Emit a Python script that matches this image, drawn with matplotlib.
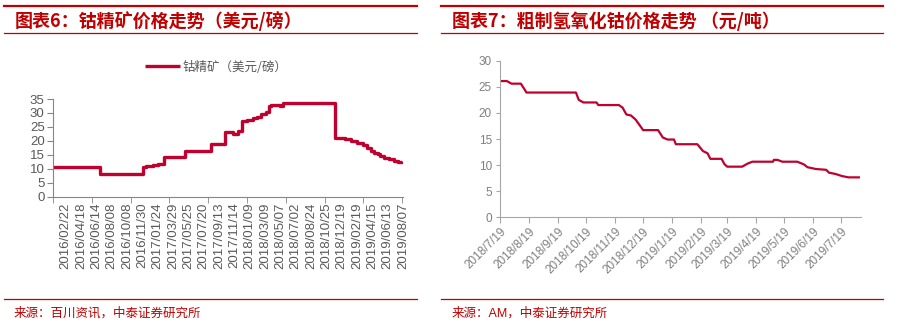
import matplotlib
matplotlib.use("Agg")
import matplotlib.pyplot as plt
import matplotlib.dates as mdates
from matplotlib.lines import Line2D
import numpy as np
import pandas as pd

plt.rcParams['font.family'] = ['Liberation Sans', 'Noto Sans CJK SC', 'DejaVu Sans']

RED = "#C00000"
LINE = "#C0002F"

# ---- 图表6 钴精矿 (x en unités d'étiquette, valeur en escalier) ----
ore_labels = ["2016/02/22", "2016/04/18", "2016/06/14", "2016/08/08", "2016/10/08",
              "2016/11/30", "2017/01/24", "2017/03/29", "2017/05/25", "2017/07/20",
              "2017/09/13", "2017/11/14", "2018/01/09", "2018/03/09", "2018/05/07",
              "2018/07/02", "2018/08/24", "2018/10/25", "2018/12/19", "2019/02/19",
              "2019/04/15", "2019/06/13", "2019/08/07"]
ore_x = [-0.83, 2.21, 5.03, 5.25, 5.7, 6.0, 6.4, 7.75, 9.49, 10.42, 10.9, 11.25,
         11.5, 11.85, 12.2, 12.5, 12.75, 13.05, 13.25, 13.4, 13.95, 14.15, 17.55,
         18.2, 18.6, 19.0, 19.4, 19.65, 19.9, 20.1, 20.35, 20.5, 20.75, 21.1, 21.4,
         21.7, 21.94]
ore_y = [10.8, 8.0, 10.6, 11.0, 11.3, 11.7, 14.1, 16.3, 18.9, 23.0, 22.6, 23.4,
         27.0, 27.6, 28.3, 28.7, 29.8, 30.5, 32.6, 33.0, 32.6, 33.5, 21.0,
         20.5, 20.0, 19.3, 18.7, 17.5, 16.5, 15.8, 15.3, 14.5, 13.8, 13.5, 12.7,
         12.3, 12.8]

# ---- 图表7 粗制氢氧化钴 ----
hyd_dates = ["2018-07-19", "2018-07-26", "2018-07-31", "2018-08-10", "2018-08-14",
             "2018-08-16", "2018-10-08", "2018-10-11", "2018-10-16", "2018-10-30",
             "2018-11-01", "2018-11-23", "2018-11-27", "2018-12-01", "2018-12-06",
             "2018-12-11", "2018-12-15", "2018-12-19", "2019-01-04", "2019-01-09",
             "2019-01-14", "2019-01-21", "2019-01-23", "2019-02-15", "2019-02-21",
             "2019-02-26", "2019-03-01", "2019-03-13", "2019-03-16", "2019-03-19",
             "2019-04-04", "2019-04-10", "2019-04-15", "2019-05-07", "2019-05-08",
             "2019-05-12", "2019-05-17", "2019-06-02", "2019-06-09", "2019-06-13",
             "2019-06-22", "2019-07-03", "2019-07-06", "2019-07-13", "2019-07-20",
             "2019-07-27", "2019-08-07"]
hyd_vals = [26.1, 26.1, 25.6, 25.6, 24.5, 23.9, 23.9, 22.5, 22.0, 22.0,
            21.5, 21.5, 21.0, 19.7, 19.5, 18.7, 17.7, 16.7, 16.7, 15.3,
            14.9, 14.9, 14.0, 14.0, 12.7, 12.25, 11.2, 11.2, 10.2, 9.7,
            9.7, 10.3, 10.65, 10.65, 11.0, 11.0, 10.65, 10.65, 10.15, 9.6,
            9.25, 9.1, 8.55, 8.3, 7.9, 7.65, 7.65]
hyd_ticks = pd.date_range("2018-07-19", periods=13, freq=pd.DateOffset(months=1))

W, H = 902, 333
fig = plt.figure(figsize=(W / 100, H / 100), dpi=100)


def fx(px):
    return px / W


def fy(py):
    return 1 - py / H


def rule(x0, x1, y, lw):
    fig.add_artist(Line2D([fx(x0), fx(x1)], [fy(y), fy(y)], color=RED, lw=lw,
                          transform=fig.transFigure))


# en-têtes / pieds
for x0, x1 in [(4, 417), (441, 883)]:
    rule(x0, x1, 6, 1.6)
    rule(x0, x1, 33, 0.9)
    rule(x0, x1, 299, 0.9)

fig.text(fx(15), fy(21), "图表6：钴精矿价格走势（美元/磅）", color=RED, fontsize=13,
         fontweight="bold", family=["Noto Sans CJK SC"], va="center")
fig.text(fx(452), fy(21), "图表7：粗制氢氧化钴价格走势 （元/吨）", color=RED, fontsize=13,
         fontweight="bold", family=["Noto Sans CJK SC"], va="center")
fig.text(fx(14), fy(313), "来源：百川资讯，中泰证券研究所", color=RED, fontsize=9,
         family=["Noto Sans CJK SC"], va="center")
fig.text(fx(452), fy(313), "来源：AM，中泰证券研究所", color=RED, fontsize=9,
         family=["Liberation Sans", "Noto Sans CJK SC"], va="center")

# --- Figure 6 ---
ax1 = fig.add_axes([fx(53), fy(196.7), fx(350), 97.7 / H])
ax1.plot(ore_x, ore_y, drawstyle="steps-post", color=LINE, lw=2.4,
         label="钴精矿（美元/磅）", solid_capstyle="butt")
ax1.set_xlim(ore_x[0], ore_x[-1])
ax1.set_ylim(0, 35)
ax1.set_yticks(np.arange(0, 36, 5))
ax1.set_xticks(np.arange(len(ore_labels)))
ax1.set_xticklabels(ore_labels, rotation=90)
ax1.set_xticks(np.linspace(ore_x[0], ore_x[-1], 10), minor=True)
ax1.tick_params(axis="x", which="major", length=0, pad=4, labelsize=9.5, labelcolor="#595959")
ax1.tick_params(axis="x", which="minor", length=4, color="#868686")
ax1.tick_params(axis="y", length=4, color="#868686", labelsize=9.5, labelcolor="#595959", pad=2)
for s in ["top", "right"]:
    ax1.spines[s].set_visible(False)
for s in ["left", "bottom"]:
    ax1.spines[s].set_color("#868686")
    ax1.spines[s].set_linewidth(0.8)
fig.legend(loc="center", bbox_to_anchor=(fx(216), fy(67)), frameon=False,
           prop={"family": ["Noto Sans CJK SC"], "size": 9}, handlelength=2.8,
           handletextpad=0.2, labelcolor="#595959")

# --- Figure 7 ---
ax2 = fig.add_axes([fx(500.3), fy(217.3), fx(360.4), (217.3 - 60.7) / H])
ax2.plot(pd.to_datetime(hyd_dates), hyd_vals, color=LINE, lw=1.6)
ax2.set_xlim(pd.Timestamp("2018-07-19"), pd.Timestamp("2019-08-09"))
ax2.set_ylim(0, 30)
ax2.set_yticks(np.arange(0, 31, 5))
ax2.set_xticks(hyd_ticks)
ax2.xaxis.set_major_formatter(mdates.DateFormatter("%Y/%-m/%-d"))
plt.setp(ax2.get_xticklabels(), rotation=45, ha="right", rotation_mode="anchor")
ax2.tick_params(axis="x", length=4, color="#a6a6a6", labelsize=8.5, labelcolor="#7f7f7f", pad=2)
ax2.tick_params(axis="y", length=3, color="#a6a6a6", labelsize=8.5, labelcolor="#7f7f7f", pad=3)
for s in ["top", "right"]:
    ax2.spines[s].set_visible(False)
for s in ["left", "bottom"]:
    ax2.spines[s].set_color("#a6a6a6")
    ax2.spines[s].set_linewidth(0.8)

fig.savefig("out.png", dpi=100)
